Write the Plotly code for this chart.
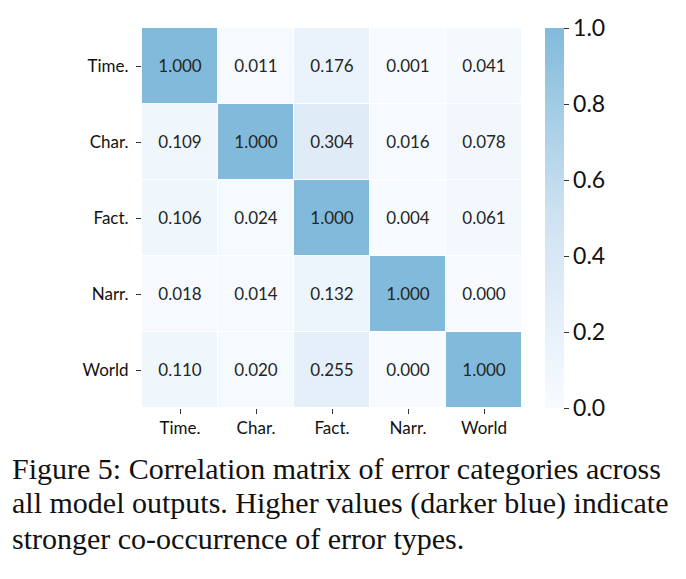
import plotly.graph_objects as go

categories = ["Time.", "Char.", "Fact.", "Narr.", "World"]
values = [
    [1.000, 0.011, 0.176, 0.001, 0.041],
    [0.109, 1.000, 0.304, 0.016, 0.078],
    [0.106, 0.024, 1.000, 0.004, 0.061],
    [0.018, 0.014, 0.132, 1.000, 0.000],
    [0.110, 0.020, 0.255, 0.000, 1.000],
]
cbar_ticks = [0.0, 0.2, 0.4, 0.6, 0.8, 1.0]
caption_lines = [
    "Figure 5: Correlation matrix of error categories across",
    "all model outputs. Higher values (darker blue) indicate",
    "stronger co-occurrence of error types.",
]

W, H = 686, 579
L, R, T, B = 142, 522, 28, 408

colorscale = [
    [0.0, "#f7fbff"],
    [0.25, "#e4eff9"],
    [0.5, "#cfe2f2"],
    [0.75, "#a9cfe6"],
    [1.0, "#81badb"],
]

text = [[f"{v:.3f}" for v in row] for row in values]

fig = go.Figure(go.Heatmap(
    z=values, x=categories, y=categories,
    colorscale=colorscale, zmin=0, zmax=1,
    xgap=1, ygap=1,
    text=text, texttemplate="%{text}",
    textfont=dict(family="Lato", size=17, color="#262626"),
    colorbar=dict(
        x=(545 - L) / (R - L), xanchor="left", xref="paper", xpad=0, ypad=0,
        y=0.5, yanchor="middle", len=1.0, lenmode="fraction",
        thickness=19, outlinewidth=0,
        tickvals=cbar_ticks, ticktext=[f"{t:.1f}" for t in cbar_ticks],
        ticks="outside", ticklen=5, tickcolor="#333",
        tickfont=dict(family="Lato", size=23, color="#111"),
    ),
))

fig.update_xaxes(showgrid=False, zeroline=False, ticks="outside", ticklen=5,
                 tickcolor="#333", tickfont=dict(family="Lato", size=17, color="#111"))
fig.update_yaxes(autorange="reversed", showgrid=False, zeroline=False, ticks="outside",
                 ticklen=5, tickcolor="#333", ticklabelstandoff=4,
                 tickfont=dict(family="Lato", size=17, color="#111"))

ph = B - T
for i, (line, py) in enumerate(zip(caption_lines, [468, 503, 538])):
    fig.add_annotation(
        text=line, xref="paper", yref="paper",
        x=(10 - L) / (R - L), y=(B - py) / ph,
        xanchor="left", yanchor="middle", showarrow=False,
        font=dict(family="Liberation Serif", size=30, color="#111"),
    )

fig.update_layout(
    width=W, height=H,
    margin=dict(l=L, r=W - R, t=T, b=H - B),
    paper_bgcolor="white", plot_bgcolor="white",
)

fig.write_html("out.html")
